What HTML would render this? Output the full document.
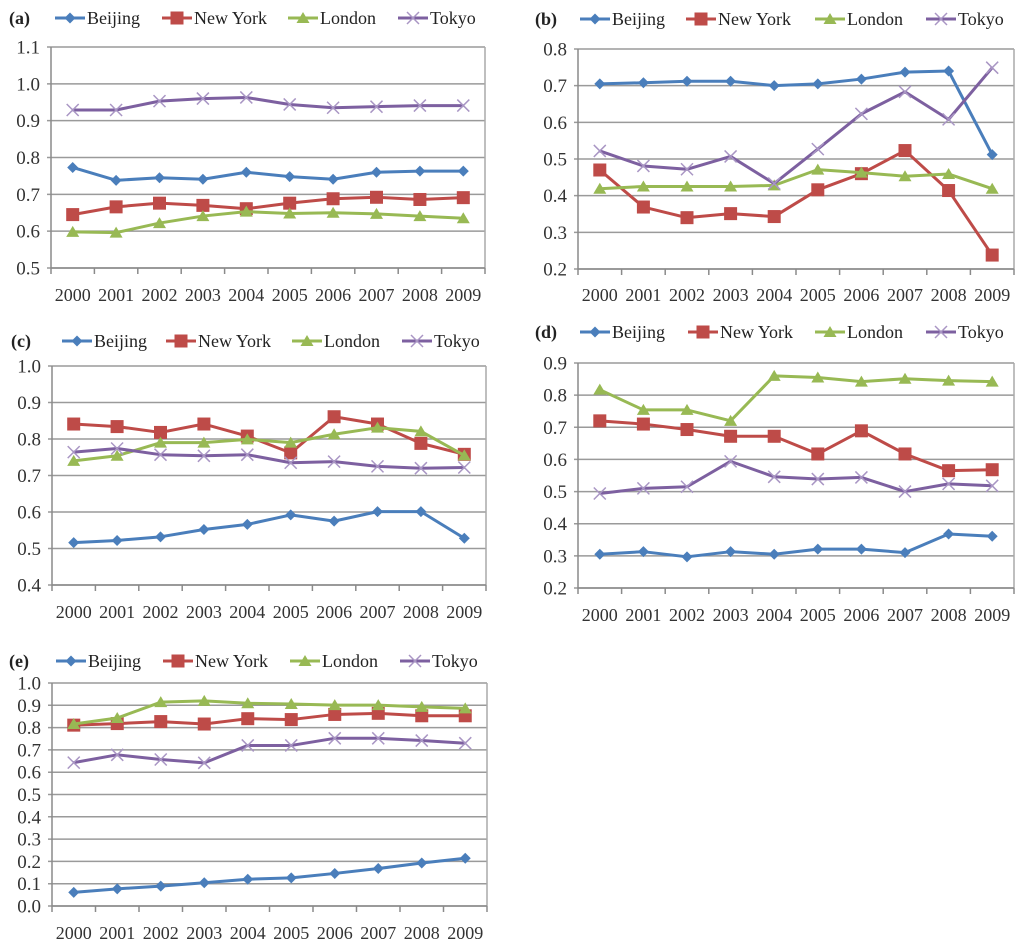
<!DOCTYPE html>
<html><head><meta charset="utf-8"><style>
html,body{margin:0;padding:0;background:#fff;}
svg{display:block;font-family:"Liberation Serif",serif;}
</style></head><body>
<svg id="fig" width="1024" height="952" viewBox="0 0 1024 952" xmlns="http://www.w3.org/2000/svg"></svg>
<script>
const years = ['2000','2001','2002','2003','2004','2005','2006','2007','2008','2009'];
const seriesNames = ['Beijing','New York','London','Tokyo'];

const aBeijing = [.773,.738,.745,.741,.760,.748,.741,.760,.763,.763];
const aNewYork = [.645,.666,.676,.670,.661,.676,.688,.692,.686,.691];
const aLondon  = [.598,.596,.622,.641,.653,.648,.650,.647,.641,.635];
const aTokyo   = [.929,.929,.953,.960,.963,.944,.935,.938,.941,.941];
const aTicks = ['0.5','0.6','0.7','0.8','0.9','1.0','1.1'];

const bBeijing = [.705,.708,.712,.712,.700,.705,.718,.737,.740,.512];
const bNewYork = [.470,.369,.340,.351,.343,.416,.460,.523,.414,.238];
const bLondon  = [.419,.425,.425,.425,.428,.471,.463,.453,.459,.419];
const bTokyo   = [.522,.481,.472,.507,.433,.527,.623,.683,.608,.749];
const bTicks = ['0.2','0.3','0.4','0.5','0.6','0.7','0.8'];

const cBeijing = [.516,.522,.532,.552,.566,.592,.575,.601,.601,.528];
const cNewYork = [.841,.834,.818,.841,.808,.762,.861,.841,.788,.758];
const cLondon  = [.740,.754,.790,.790,.799,.790,.813,.831,.821,.755];
const cTokyo   = [.764,.774,.757,.754,.757,.735,.738,.725,.720,.722];
const cTicks = ['0.4','0.5','0.6','0.7','0.8','0.9','1.0'];

const dBeijing = [.305,.313,.297,.313,.305,.321,.321,.310,.368,.361];
const dNewYork = [.720,.710,.693,.672,.672,.617,.689,.617,.565,.568];
const dLondon  = [.817,.754,.754,.720,.860,.855,.842,.851,.845,.842];
const dTokyo   = [.494,.510,.515,.594,.546,.539,.544,.500,.524,.518];
const dTicks = ['0.2','0.3','0.4','0.5','0.6','0.7','0.8','0.9'];

const eBeijing = [.061,.077,.089,.104,.120,.126,.146,.168,.193,.214];
const eNewYork = [.811,.818,.827,.816,.840,.836,.859,.864,.853,.853];
const eLondon  = [.816,.843,.914,.920,.909,.906,.901,.901,.893,.886];
const eTokyo   = [.643,.678,.657,.642,.720,.720,.752,.752,.742,.730];
const eTicks = ['0.0','0.1','0.2','0.3','0.4','0.5','0.6','0.7','0.8','0.9','1.0'];

const NS='http://www.w3.org/2000/svg';
const svg=document.getElementById('fig');
const colors=['#4a7ebb','#be4b48','#98b954','#7d60a0'];
function mk(tag,attrs,parent){const e=document.createElementNS(NS,tag);for(const k in attrs)e.setAttribute(k,attrs[k]);(parent||svg).appendChild(e);return e;}

function marker(g,type,x,y,c){
  let m;
  if(type===0){m=mk('polygon',{points:`${x},${y-5.5} ${x+5.5},${y} ${x},${y+5.5} ${x-5.5},${y}`,fill:c},g);}
  else if(type===1){m=mk('rect',{x:x-6.5,y:y-6.5,width:13,height:13,fill:c},g);}
  else if(type===2){m=mk('polygon',{points:`${x},${y-6} ${x+6.5},${y+5} ${x-6.5},${y+5}`,fill:c},g);}
  else {m=mk('path',{d:`M${x-6},${y-6}L${x+6},${y+6}M${x+6},${y-6}L${x-6},${y+6}`,stroke:'#a996c4','stroke-width':1.5,fill:'none'},g);}
  
  
}

function panel(p){
  const g=mk('g',{});
  
  
  const ymin=parseFloat(p.ticks[0]), ymax=parseFloat(p.ticks[p.ticks.length-1]);
  const Y=v=>p.bot-(v-ymin)/(ymax-ymin)*(p.bot-p.top);
  const step=(p.right-p.left)/years.length;
  const X=i=>p.left+step*(i+0.5);
  p.ticks.forEach(t=>{
    const y=Y(parseFloat(t));
    const l=mk('line',{x1:p.left-4,x2:p.right,y1:y,y2:y,stroke:'#9a9a9a','stroke-width':1.5},g);
    
    
    const tx=mk('text',{x:p.left-11,y:y+6.5,'text-anchor':'end','font-size':19,fill:'#333'},g);
    tx.textContent=t;
    
    
  });
  mk('line',{x1:p.right,x2:p.right,y1:p.top,y2:p.bot,stroke:'#aaa','stroke-width':1.5},g);
  const ax=mk('line',{x1:p.left,x2:p.left,y1:p.top,y2:p.bot,stroke:'#8a8a8a','stroke-width':1.5},g);
  
  
  const bx=mk('line',{x1:p.left,x2:p.right,y1:p.bot,y2:p.bot,stroke:'#8a8a8a','stroke-width':1.5},g);
  
  
  for(let i=0;i<=years.length;i++){const x=p.left+step*i;mk('line',{x1:x,x2:x,y1:p.bot,y2:p.bot+6,stroke:'#8a8a8a','stroke-width':1.5},g);}
  years.forEach((yr,i)=>{
    const t=mk('text',{x:X(i),y:p.yearY,'text-anchor':'middle','font-size':18,fill:'#333'},g);
    t.textContent=yr;
    
    
  });
  p.data.forEach((arr,s)=>{
    const pts=arr.map((v,i)=>X(i)+','+Y(v)).join(' ');
    const pl=mk('polyline',{points:pts,fill:'none',stroke:colors[s],'stroke-width':3,'stroke-linejoin':'round'},g);
    
    
    arr.forEach((v,i)=>marker(g,s,X(i),Y(v),colors[s]));
  });
  const lab=mk('text',{x:p.labX,y:p.legY+6,'font-size':18,'font-weight':'bold',fill:'#222'},g);
  lab.textContent='('+p.id+')';
  
  
  p.legX.forEach((lx,s)=>{
    const lg=mk('g',{},g);
    
    
    mk('line',{x1:lx,x2:lx+30,y1:p.legY,y2:p.legY,stroke:colors[s],'stroke-width':3},lg);
    marker(lg,s,lx+15,p.legY,colors[s]);
    const t=mk('text',{x:lx+32,y:p.legY+6,'font-size':18,fill:'#222'},lg);
    t.textContent=seriesNames[s];
  });
}

panel({id:'a',left:51,right:485,top:47,bot:268,yearY:301,ticks:aTicks,data:[aBeijing,aNewYork,aLondon,aTokyo],labX:9,legY:18,legX:[55,162,288,398]});
panel({id:'b',left:578,right:1014,top:49,bot:269,yearY:301,ticks:bTicks,data:[bBeijing,bNewYork,bLondon,bTokyo],labX:535,legY:19,legX:[580,686,815,926]});
panel({id:'c',left:52,right:486,top:366,bot:585,yearY:618,ticks:cTicks,data:[cBeijing,cNewYork,cLondon,cTokyo],labX:11,legY:341,legX:[62,166,292,402]});
panel({id:'d',left:578,right:1014,top:363,bot:588,yearY:621,ticks:dTicks,data:[dBeijing,dNewYork,dLondon,dTokyo],labX:535,legY:332,legX:[580,688,815,926]});
panel({id:'e',left:52,right:487,top:683,bot:906,yearY:939,ticks:eTicks,data:[eBeijing,eNewYork,eLondon,eTokyo],labX:9,legY:661,legX:[56,163,290,400]});
</script>
</body></html>
